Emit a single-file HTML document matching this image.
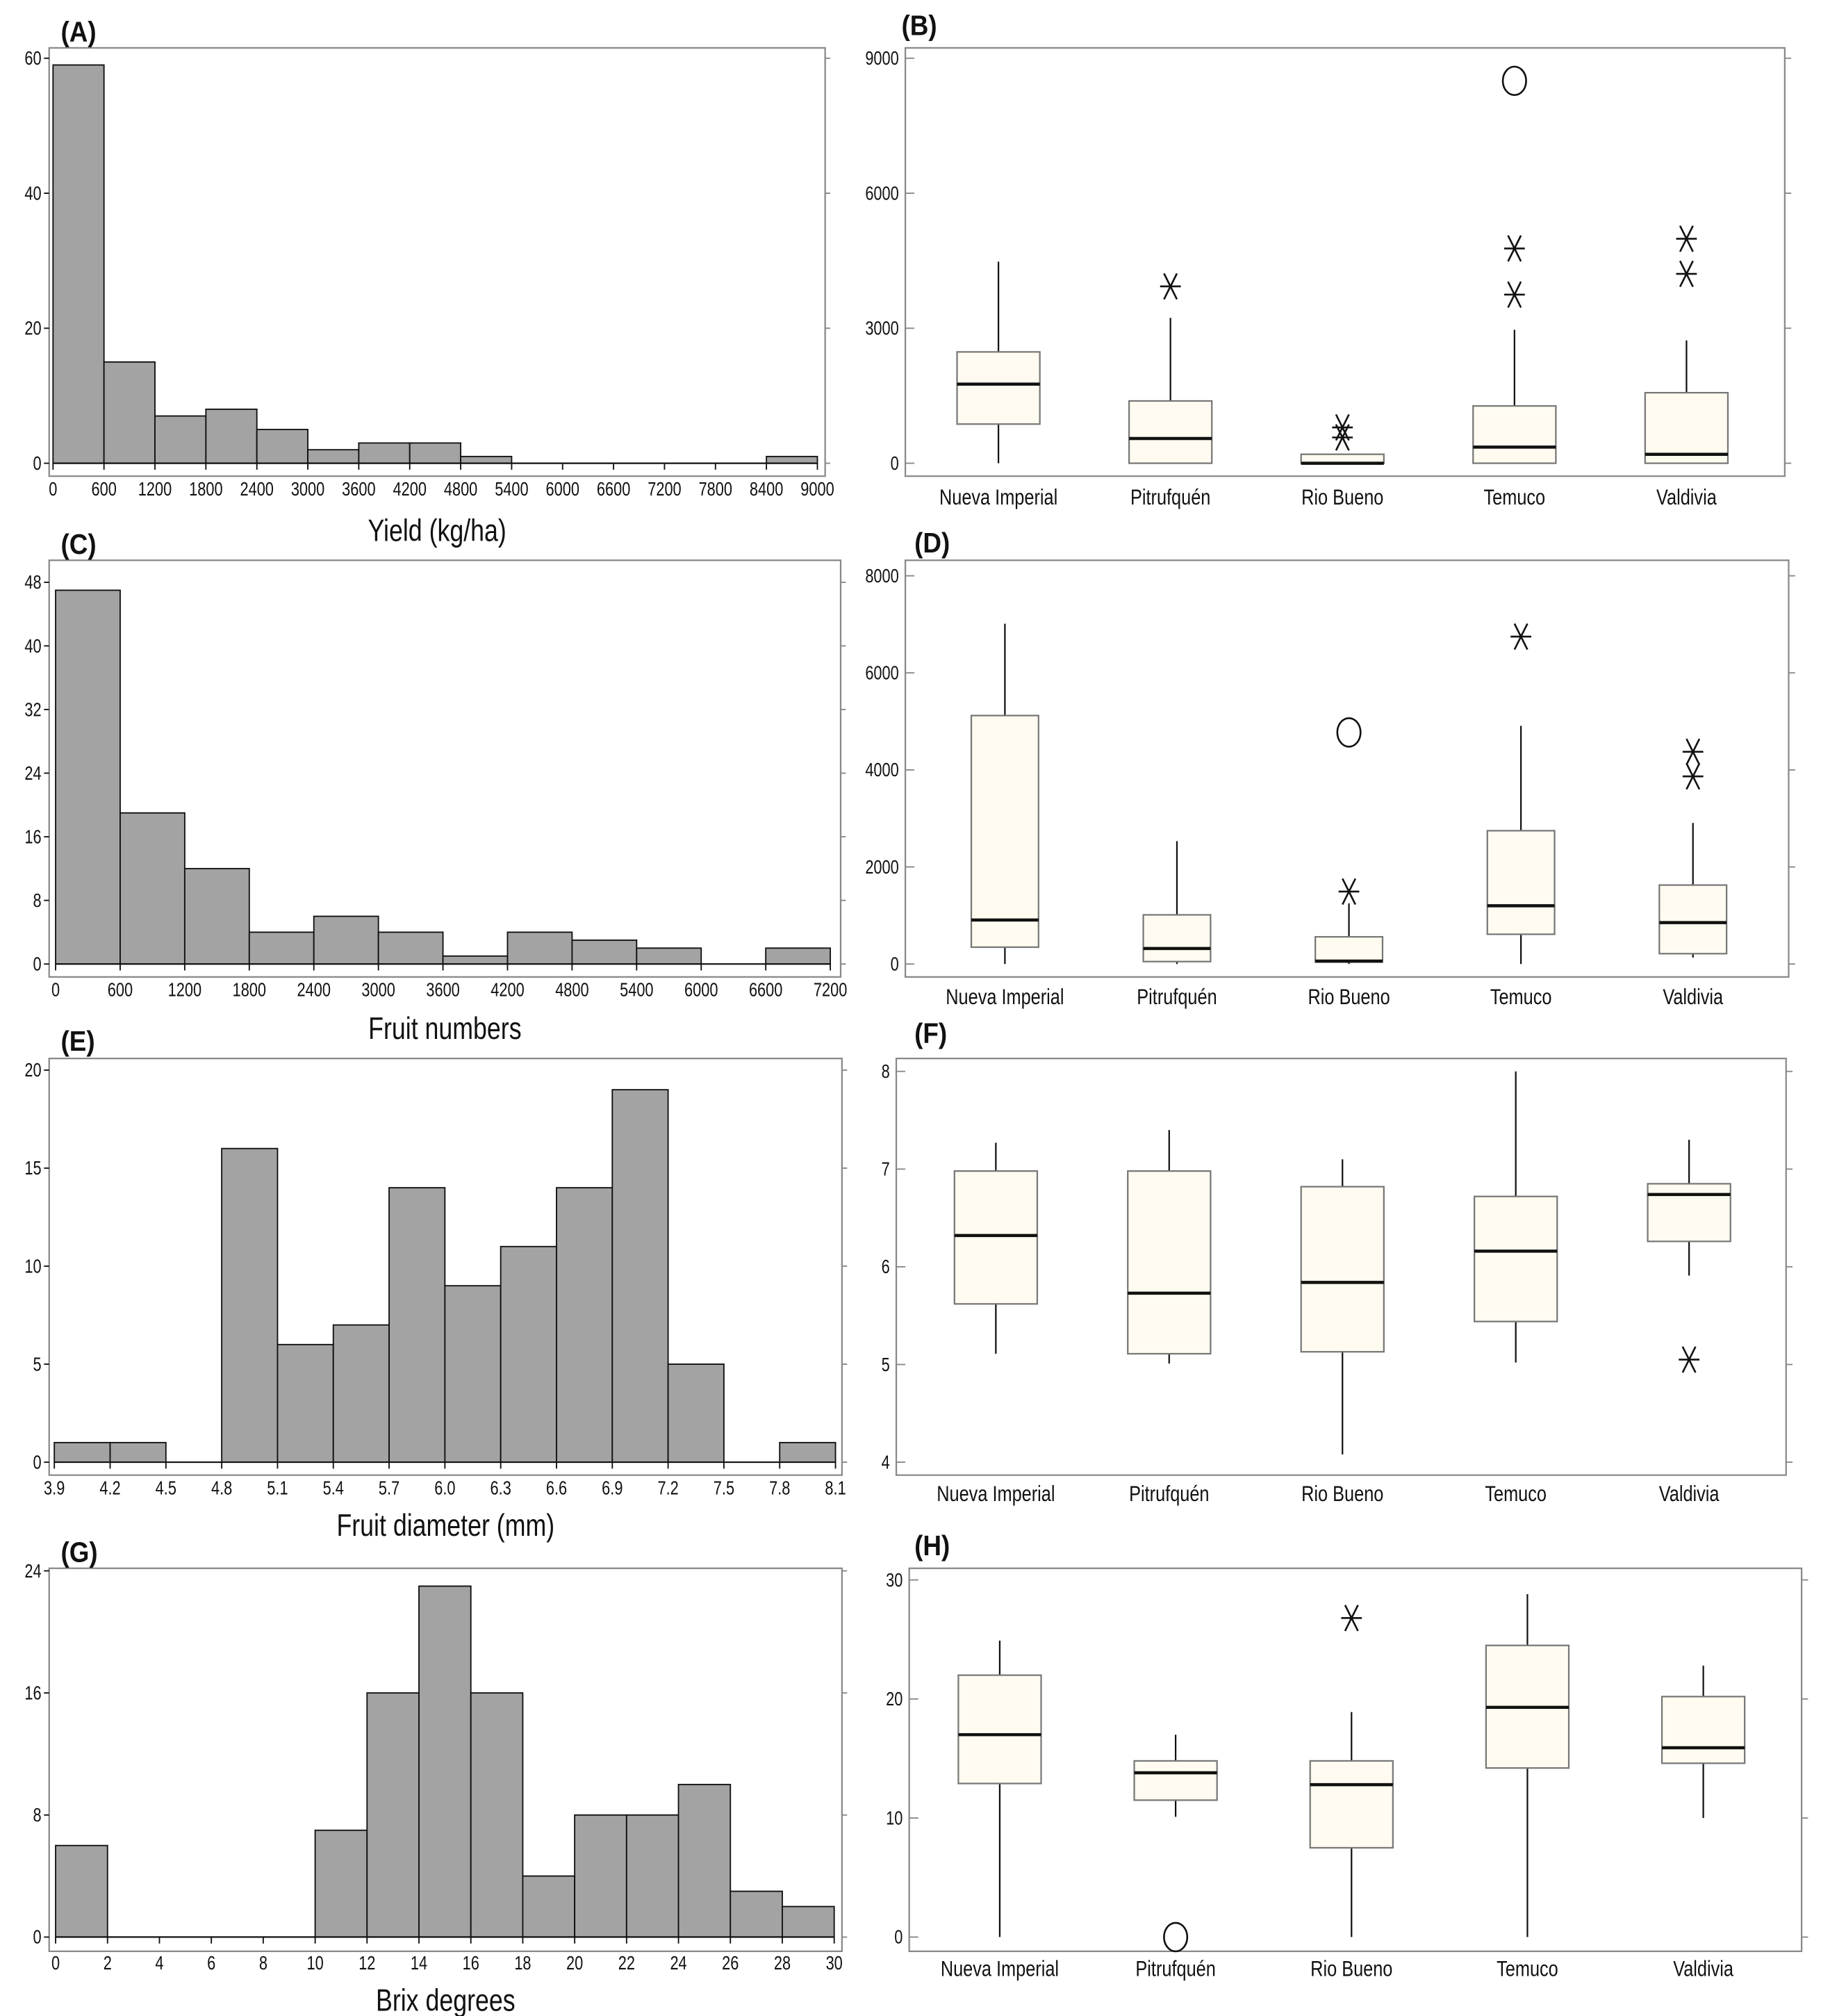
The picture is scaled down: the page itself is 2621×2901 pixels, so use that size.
<!DOCTYPE html>
<html><head><meta charset="utf-8"><style>
html,body{margin:0;padding:0;background:#fff}
svg{display:block}
text{font-family:"Liberation Sans",sans-serif;fill:#111}
</style></head><body>
<svg id="fig" width="2621" height="2901" viewBox="0 0 1408 1558" preserveAspectRatio="none" xmlns="http://www.w3.org/2000/svg"></svg>
<script>
// ---- data ----
const histA_counts=[59,15,7,8,5,2,3,3,1,0,0,0,0,0,1];
const histA_ticks=[0,600,1200,1800,2400,3000,3600,4200,4800,5400,6000,6600,7200,7800,8400,9000];
const histA_yticks=[0,20,40,60];
const histC_counts=[47,19,12,4,6,4,1,4,3,2,0,2];
const histC_ticks=[0,600,1200,1800,2400,3000,3600,4200,4800,5400,6000,6600,7200];
const histC_yticks=[0,8,16,24,32,40,48];
const histE_counts=[1,1,0,16,6,7,14,9,11,14,19,5,0,1];
const histE_ticks=[3.9,4.2,4.5,4.8,5.1,5.4,5.7,6.0,6.3,6.6,6.9,7.2,7.5,7.8,8.1];
const histE_yticks=[0,5,10,15,20];
const histG_counts=[6,0,0,0,0,7,16,23,16,4,8,8,10,3,2];
const histG_ticks=[0,2,4,6,8,10,12,14,16,18,20,22,24,26,28,30];
const histG_yticks=[0,8,16,24];
const sites=["Nueva Imperial","Pitrufquén","Rio Bueno","Temuco","Valdivia"];
// [low, q1, median, q3, high]
const boxB=[[0,870,1758,2474,4479],[0,0,549,1384,3230],[0,0,0,199,199],[0,0,358,1273,2967],[0,0,199,1567,2729]];
const starsB=[[],[3930],[796,573],[3747,4773],[4208,4988]];
const circB=[[],[],[],[8497],[]];
const yticksB=[0,3000,6000,9000];
const boxD=[[0,347,907,5120,7013],[0,50,320,1013,2533],[0,40,60,560,1250],[0,613,1200,2747,4907],[133,213,853,1627,2907]];
const starsD=[[],[],[1493],[6747],[3867,4373]];
const circD=[[],[],[4773],[],[]];
const yticksD=[0,2000,4000,6000,8000];
const boxF=[[5.11,5.62,6.32,6.98,7.27],[5.01,5.11,5.73,6.98,7.40],[4.08,5.13,5.84,6.82,7.10],[5.02,5.44,6.16,6.72,8.0],[5.91,6.26,6.74,6.85,7.30]];
const starsF=[[],[],[],[],[5.05]];
const circF=[[],[],[],[],[]];
const yticksF=[4,5,6,7,8];
const boxH=[[0,12.9,17.0,22.0,24.9],[10.1,11.5,13.8,14.8,17.0],[0,7.5,12.8,14.8,18.9],[0,14.2,19.3,24.5,28.8],[10.0,14.6,15.9,20.2,22.8]];
const starsH=[[],[],[26.8],[],[]];
const circH=[[],[0],[],[],[]];
const yticksH=[0,10,20,30];

const NS="http://www.w3.org/2000/svg";
const svg=document.getElementById('fig');
function el(tag,attrs,parent){const e=document.createElementNS(NS,tag);for(const k in attrs)e.setAttribute(k,attrs[k]);(parent||svg).appendChild(e);return e;}
function txt(s,x,y,size,anchor,parent,bold,sx){const t=el('text',{x:0,y:0,'font-size':size,'text-anchor':anchor||'middle',transform:`translate(${x},${y}) scale(${sx||0.8},1)`},parent);if(bold){t.setAttribute('font-weight','bold');}t.textContent=s;return t;}

function hist(cfg){
  const g=el('g',{});
  
  
  const fr=el('rect',{x:cfg.fx0,y:cfg.fy0,width:cfg.fx1-cfg.fx0,height:cfg.fy1-cfg.fy0,fill:'none',stroke:'#888','stroke-width':1.2},g);
  
  
  const t0=cfg.ticks[0],t1=cfg.ticks[cfg.ticks.length-1];
  const X=v=>cfg.x0+(v-t0)/(t1-t0)*(cfg.x1-cfg.x0);
  const ym=cfg.yticks[cfg.yticks.length-1];
  const Y=v=>cfg.y0+(v/ym)*(cfg.ytop-cfg.y0);
  const w=(t1-t0)/cfg.counts.length;
  cfg.counts.forEach((c,i)=>{ if(c<=0)return;
    const r=el('rect',{x:X(t0+i*w),y:Y(c),width:X(t0+(i+1)*w)-X(t0+i*w),height:Y(0)-Y(c),fill:'#a3a3a3',stroke:'#111','stroke-width':1},g);
    
    
  });
  el('line',{x1:X(t0),x2:X(t1),y1:Y(0),y2:Y(0),stroke:'#111','stroke-width':1.2},g);
  cfg.ticks.forEach(v=>{el('line',{x1:X(v),x2:X(v),y1:Y(0),y2:Y(0)+5,stroke:'#111'},g);
    const l=txt(cfg.dec?v.toFixed(1):String(v),X(v),Y(0)+25,15,'middle',g,false,0.78);
    
    });
  cfg.yticks.forEach(v=>{el('line',{x1:cfg.fx0-4,x2:cfg.fx0,y1:Y(v),y2:Y(v),stroke:'#111'},g);
    el('line',{x1:cfg.fx1,x2:cfg.fx1+4,y1:Y(v),y2:Y(v),stroke:'#888'},g);
    const l=txt(String(v),cfg.fx0-6,Y(v)+5,15,'end',g,false,0.78);
    
    });
  const tt=txt(cfg.title,(cfg.fx0+cfg.fx1)/2,cfg.titleY,24,'middle',g,false,0.8);
  
  
  const pl=txt(cfg.label,cfg.lx,cfg.ly,22,'start',g,true,0.9);
  
  
}

function box(cfg){
  const g=el('g',{});
  
  
  const fr=el('rect',{x:cfg.fx0,y:cfg.fy0,width:cfg.fx1-cfg.fx0,height:cfg.fy1-cfg.fy0,fill:'none',stroke:'#888','stroke-width':1.2},g);
  
  
  const y0=cfg.yticks[0],y1=cfg.yticks[cfg.yticks.length-1];
  const Y=v=>cfg.yb+(v-y0)/(y1-y0)*(cfg.yt-cfg.yb);
  cfg.yticks.forEach(v=>{
    el('line',{x1:cfg.fx0+7,x2:cfg.fx0,y1:Y(v),y2:Y(v),stroke:'#888'},g);
    el('line',{x1:cfg.fx1,x2:cfg.fx1+5,y1:Y(v),y2:Y(v),stroke:'#888'},g);
    const l=txt(String(v),cfg.fx0-5,Y(v)+5,15,'end',g,false,0.78);
    
    
  });
  sites.forEach((s,i)=>{
    const cx=cfg.cx[0]+i*(cfg.cx[1]-cfg.cx[0])/4, hw=cfg.bw/2, d=cfg.data[i];
    el('line',{x1:cx,x2:cx,y1:Y(d[0]),y2:Y(d[1]),stroke:'#111','stroke-width':1.2},g);
    el('line',{x1:cx,x2:cx,y1:Y(d[3]),y2:Y(d[4]),stroke:'#111','stroke-width':1.2},g);
    const r=el('rect',{x:cx-hw,y:Y(d[3]),width:cfg.bw,height:Math.max(1,Y(d[1])-Y(d[3])),fill:'#fffbf0',stroke:'#777','stroke-width':1.2},g);
    
    
    el('line',{x1:cx-hw,x2:cx+hw,y1:Y(d[2]),y2:Y(d[2]),stroke:'#111','stroke-width':2.4},g);
    cfg.stars[i].forEach(v=>{const y=Y(v);
      const p=el('path',{d:`M${cx-8} ${y}H${cx+8}M${cx-5} ${y-10}L${cx+5} ${y+10}M${cx+5} ${y-10}L${cx-5} ${y+10}`,stroke:'#111','stroke-width':1.4,fill:'none'},g);
      
      });
    cfg.circ[i].forEach(v=>{
      const c=el('ellipse',{cx:cx,cy:Y(v),rx:9,ry:11,fill:'none',stroke:'#111','stroke-width':1.4},g);
      
      });
    const l=txt(s,cx,cfg.catY,17,'middle',g,false,0.8);
    
    
  });
  const pl=txt(cfg.label,cfg.lx,cfg.ly,22,'start',g,true,0.9);
  
  
}

hist({name:'histogram-yield',counts:histA_counts,ticks:histA_ticks,yticks:histA_yticks,fx0:38,fx1:638,fy0:37,fy1:368,x0:41,x1:632,y0:358,ytop:45,title:'Yield (kg/ha)',titleY:418,label:'(A)',lx:47,ly:32});
hist({name:'histogram-fruit-numbers',counts:histC_counts,ticks:histC_ticks,yticks:histC_yticks,fx0:38,fx1:650,fy0:433,fy1:755,x0:43,x1:642,y0:745,ytop:450,title:'Fruit numbers',titleY:803,label:'(C)',lx:47,ly:428});
hist({name:'histogram-fruit-diameter',counts:histE_counts,ticks:histE_ticks,yticks:histE_yticks,fx0:38,fx1:651,fy0:818,fy1:1140,x0:42,x1:646,y0:1130,ytop:827,title:'Fruit diameter (mm)',titleY:1187,label:'(E)',lx:47,ly:812,dec:true});
hist({name:'histogram-brix',counts:histG_counts,ticks:histG_ticks,yticks:histG_yticks,fx0:38,fx1:651,fy0:1212,fy1:1508,x0:43,x1:645,y0:1497,ytop:1214,title:'Brix degrees',titleY:1554,label:'(G)',lx:47,ly:1207});

box({name:'boxplot-yield',data:boxB,stars:starsB,circ:circB,yticks:yticksB,fx0:700,fx1:1380,fy0:37,fy1:368,yb:358,yt:45,cx:[772,1304],bw:64,catY:390,label:'(B)',lx:697,ly:27});
box({name:'boxplot-fruit-numbers',data:boxD,stars:starsD,circ:circD,yticks:yticksD,fx0:700,fx1:1383,fy0:433,fy1:755,yb:745,yt:445,cx:[777,1309],bw:52,catY:776,label:'(D)',lx:707,ly:427});
box({name:'boxplot-fruit-diameter',data:boxF,stars:starsF,circ:circF,yticks:yticksF,fx0:693,fx1:1381,fy0:818,fy1:1140,yb:1130,yt:828,cx:[770,1306],bw:64,catY:1160,label:'(F)',lx:707,ly:806});
box({name:'boxplot-brix',data:boxH,stars:starsH,circ:circH,yticks:yticksH,fx0:703,fx1:1393,fy0:1212,fy1:1508,yb:1497,yt:1221,cx:[773,1317],bw:64,catY:1527,label:'(H)',lx:707,ly:1202});
</script>
</body></html>
